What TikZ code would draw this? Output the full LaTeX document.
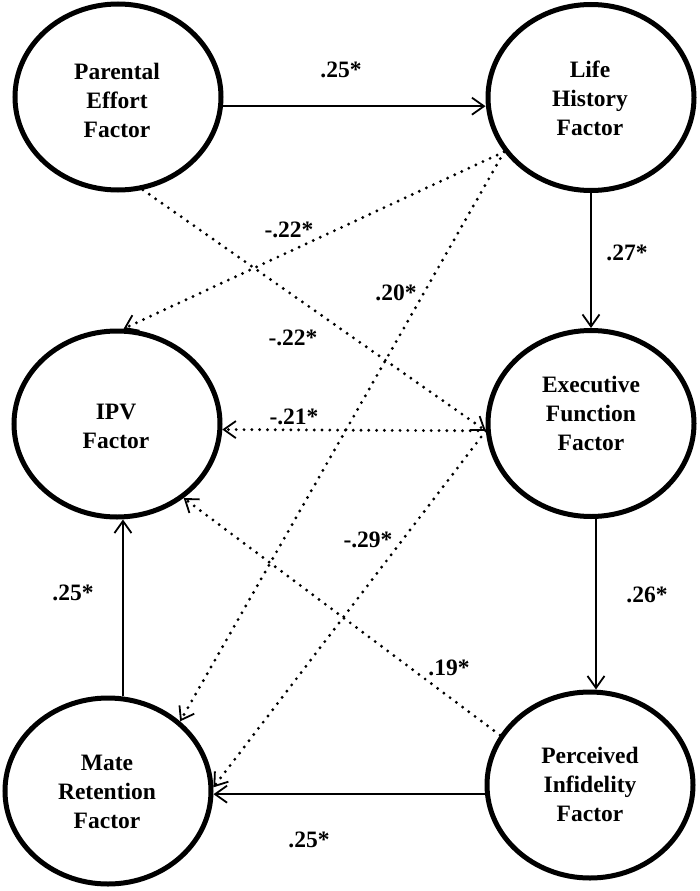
\documentclass[tikz,border=0pt]{standalone}
\usepackage{fontspec}
\setmainfont{Liberation Serif}
\usetikzlibrary{shapes.geometric,arrows.meta,calc}
\begin{document}
\begin{tikzpicture}[x=1pt,y=-1pt,
  factor/.style={draw, ellipse, line width=5pt, minimum width=206pt, minimum height=186pt, inner sep=0pt},
  ftext/.style={align=center, font=\fontsize{23.5}{29}\selectfont\bfseries, inner sep=0pt},
  coef/.style={font=\fontsize{23.5}{27}\selectfont\bfseries, inner sep=0pt},
  solidarrow/.style={line width=2.2pt, -{Straight Barb[length=12pt,width=17pt,line width=1.8pt]}},
  dotarrow/.style={line width=3.2pt, line cap=round, dash pattern=on 0pt off 7.8pt, -{Straight Barb[length=12pt,width=17pt,line width=1.8pt]}}
]
\useasboundingbox (0,0) rectangle (700,891);

% factors
\node[factor] (pe)  at (118,97)    {};
\node[factor] (lh)  at (591,97.5)  {};
\node[factor] (ipv) at (117,424)   {};
\node[factor] (ef)  at (591,423.5) {};
\node[factor] (mr)  at (108,791)   {};
\node[factor] (pi)  at (590,785)   {};

\node[ftext] (peT)  at (117,100) {Parental\\Effort\\Factor};
\node[ftext] (lhT)  at (590,98)  {Life\\History\\Factor};
\node[ftext] (ipvT) at (116,426) {IPV\\Factor};
\node[ftext] (efT)  at (591,413) {Executive\\Function\\Factor};
\node[ftext] (mrT)  at (107,792) {Mate\\Retention\\Factor};
\node[ftext] (piT)  at (590,784) {Perceived\\Infidelity\\Factor};

% solid paths
\draw[solidarrow] (pe.-5.6) -- (pe.-5.6 -| lh.west);
\draw[solidarrow] (lh.south) -- (ef.north);
\draw[solidarrow] (ef.-87) -- (ef.-87 |- pi.north);
\draw[solidarrow] (pi.185.6) -- (pi.185.6 -| mr.east);
\draw[solidarrow] (mr.81) -- (mr.81 |- ipv.south);

% dotted paths
\draw[dotarrow] (lh.212) -- (ipv.86);
\draw[dotarrow] (lh.212) -- (mr.44);
\draw[dotarrow] (pe.-75) -- (ef.184);
\draw[dotarrow] (ef.184) -- (ipv.-3.7);
\draw[dotarrow] (ef.184) -- (mr.2);
\draw[dotarrow] (pi.151.5) -- (ipv.-48.5);

% coefficients
\node[coef] (c1)  at (341,70)  {.25*};
\node[coef] (c2)  at (627,253) {.27*};
\node[coef] (c3)  at (647,595) {.26*};
\node[coef] (c4)  at (309,840) {.25*};
\node[coef] (c5)  at (73,593)  {.25*};
\node[coef] (c6)  at (289,230) {-.22*};
\node[coef] (c7)  at (396,293) {.20*};
\node[coef] (c8)  at (293,338) {-.22*};
\node[coef] (c9)  at (294,417) {-.21*};
\node[coef] (c10) at (368,540) {-.29*};
\node[coef] (c11) at (449,668) {.19*};
\end{tikzpicture}
\end{document}
